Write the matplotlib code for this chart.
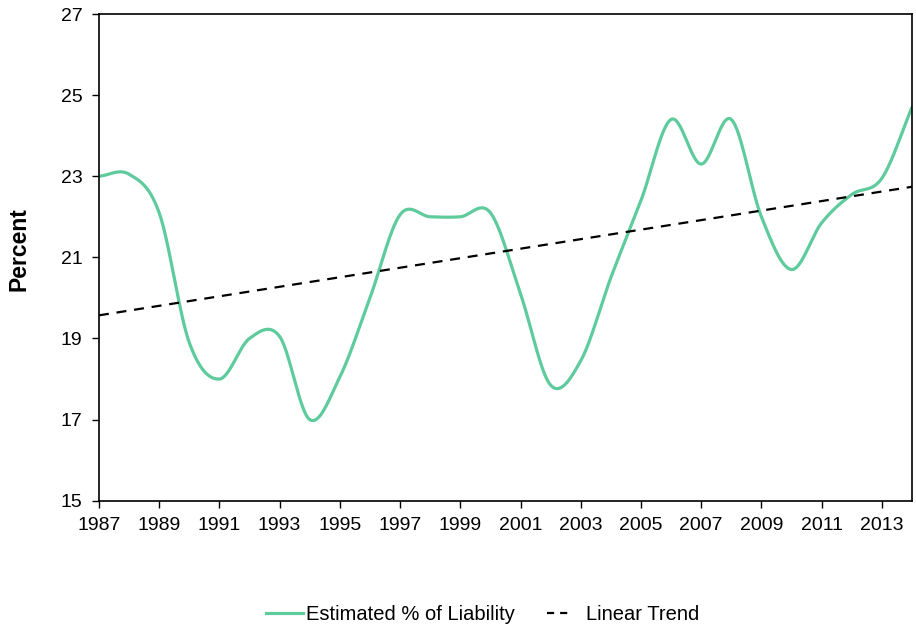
import numpy as np
import matplotlib
matplotlib.use("Agg")
import matplotlib.pyplot as plt
from matplotlib.lines import Line2D

plt.rcParams["font.family"] = ["Liberation Sans", "DejaVu Sans"]

years = np.arange(1987, 2015)
liability = [23.0, 23.05, 22.1, 18.9, 18.0, 19.0, 19.05, 17.0, 18.05, 20.0,
             22.05, 22.0, 22.0, 22.1, 20.1, 17.85, 18.45, 20.5, 22.4, 24.4,
             23.3, 24.4, 22.0, 20.7, 21.85, 22.55, 22.95, 24.7]
trend_years = [1987, 2014]
trend_values = [19.57, 22.74]

xticks = np.arange(1987, 2014, 2)
yticks = np.arange(15, 28, 2)

GREEN = "#5ECB9C"


def catmull_rom(x, y, n=30):
    # smooth curve through the points, like a spreadsheet "smoothed line"
    x = np.asarray(x, float)
    y = np.asarray(y, float)
    px = np.concatenate([[2 * x[0] - x[1]], x, [2 * x[-1] - x[-2]]])
    py = np.concatenate([[2 * y[0] - y[1]], y, [2 * y[-1] - y[-2]]])
    xs, ys = [], []
    t = np.linspace(0, 1, n, endpoint=False)
    for i in range(1, len(px) - 2):
        for p, out in ((px, xs), (py, ys)):
            p0, p1, p2, p3 = p[i - 1], p[i], p[i + 1], p[i + 2]
            out.append(0.5 * (2 * p1 + (-p0 + p2) * t
                              + (2 * p0 - 5 * p1 + 4 * p2 - p3) * t ** 2
                              + (-p0 + 3 * p1 - 3 * p2 + p3) * t ** 3))
    xs.append([x[-1]])
    ys.append([y[-1]])
    return np.concatenate(xs), np.concatenate(ys)


fig = plt.figure(figsize=(9.16, 6.31), dpi=100)
ax = fig.add_axes([0.108, 0.2065, 0.8876, 0.7713])

sx, sy = catmull_rom(years, liability)
ax.plot(sx, sy, color=GREEN, linewidth=2.3, solid_capstyle="round")
ax.plot(trend_years, trend_values, color="black", linewidth=1.6,
        linestyle=(0, (4.5, 3.5)))

ax.set_xlim(1987, 2014)
ax.set_ylim(15, 27)
ax.set_xticks(xticks)
ax.set_yticks(yticks)
ax.tick_params(direction="out", length=5, width=1, labelsize=14, colors="black", pad=7)
for s in ax.spines.values():
    s.set_linewidth(1.2)
ax.set_ylabel("Percent", fontsize=16.5, fontweight="bold")
ax.yaxis.set_label_coords(-0.084, 0.517)

# legend proxies: the dashed key shows just two short dashes
handles = [Line2D([], [], color=GREEN, linewidth=2.3),
           Line2D([], [], color="black", linewidth=1.6,
                  linestyle=(0, (3.2, 2.7, 3.2, 30)))]
fig.legend(handles, ["Estimated % of Liability", "Linear Trend"],
           loc="center", bbox_to_anchor=(0.527, 0.026), ncol=2, frameon=False,
           fontsize=14.5, handlelength=1.8, columnspacing=1.6, handletextpad=0.15)

fig.savefig("out.png", dpi=100)
